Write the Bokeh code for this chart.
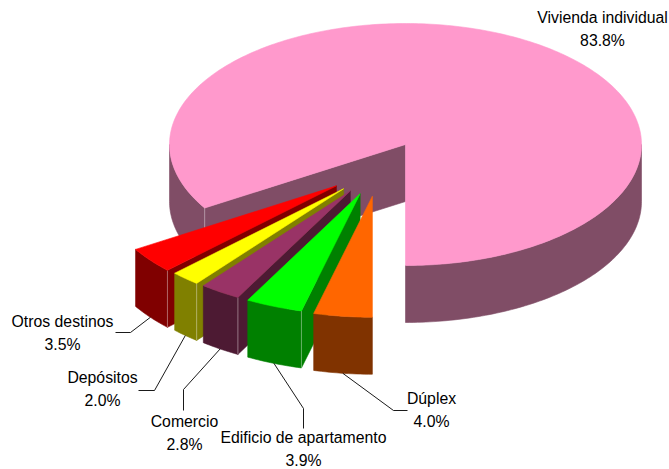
import numpy as np
from bokeh.plotting import figure
from bokeh.models import ColumnDataSource
from bokeh.embed import file_html
from bokeh.resources import INLINE
from bokeh.core.properties import value

# ---------------- data ----------------
categories = ["Vivienda individual", "Otros destinos", "Depósitos", "Comercio",
              "Edificio de apartamento", "Dúplex"]
shares = [83.8, 3.5, 2.0, 2.8, 3.9, 4.0]
exploded = [False, True, True, True, True, True]

# ---------------- styles ----------------
top_colors = ["#FF99CC", "#FF0000", "#FFFF00", "#993366", "#00FF00", "#FF6600"]
side_colors = ["#804D66", "#800000", "#808000", "#4D1A33", "#008000", "#803300"]

# ---------------- layout ----------------
W, H = 669, 469


def X(sx):
    return sx


def Y(sy):
    return H - sy


CX, CY = X(405), Y(144)
RX, RY, DEPTH = 236.0, 121.0, 57.0
START = 270.0
EXPLODE = 0.45
FONT = "Liberation Sans"
FSIZE = "15.8px"
LINE_GAP = 23

# label layout: (first-line centre, leader start, leader elbow) in page pixels
label_layout = {
    "Vivienda individual": ((602, 17), None, None),
    "Otros destinos": ((62, 321), (115, 332), (130, 332)),
    "Depósitos": ((102, 377), (138, 390), (154, 390)),
    "Comercio": ((184, 421), (183, 410), (183, 389)),
    "Edificio de apartamento": ((303, 437), (303, 428), (303, 408)),
    "Dúplex": ((431, 398), (407, 410), (393, 410)),
}


def lighten(hexc, f=0.4):
    r, g, b = (int(hexc[k:k + 2], 16) for k in (1, 3, 5))
    r, g, b = (int(c + (255 - c) * f) for c in (r, g, b))
    return f"#{r:02X}{g:02X}{b:02X}"


# ---------------- geometry ----------------
total = float(sum(shares))
spans = []
a = START
for v in shares:
    b = a + v / total * 360.0
    spans.append((a, b))
    a = b

ex_spans = [s for s, e in zip(spans, exploded) if e]
group_mid = (min(s[0] for s in ex_spans) + max(s[1] for s in ex_spans)) / 2.0


def offset(i):
    if not exploded[i]:
        return 0.0, 0.0
    mid = (spans[i][0] + spans[i][1]) / 2.0
    phi = np.radians(0.5 * mid + 0.5 * group_mid)
    return EXPLODE * RX * np.cos(phi), EXPLODE * RY * np.sin(phi)


def arc(t0, t1, ox, oy, dz=0.0, n=None):
    if n is None:
        n = max(2, int(abs(t1 - t0) / 1.0) + 2)
    t = np.radians(np.linspace(t0, t1, n))
    return list(CX + ox + RX * np.cos(t)), list(CY + oy + RY * np.sin(t) - dz)


def front_intervals(t0, t1):
    out = []
    k0 = int(np.floor(t0 / 360.0)) - 1
    for k in range(k0, k0 + 4):
        lo, hi = 180 + 360 * k, 360 + 360 * k
        s, e = max(t0, lo), min(t1, hi)
        if e - s > 1e-6:
            out.append((s, e))
    return out


xs, ys, fills, lws = [], [], [], []


def add(px, py, c, lw=0.6):
    xs.append(px)
    ys.append(py)
    fills.append(c)
    lws.append(lw)


leader_xs, leader_ys = [], []

for i, (t0, t1) in enumerate(spans):
    ox, oy = offset(i)
    tipx, tipy = CX + ox, CY + oy
    # outer curved face (front part only)
    for s, e in front_intervals(t0, t1):
        tx, ty = arc(s, e, ox, oy)
        bx, by = arc(s, e, ox, oy, DEPTH)
        add(tx + bx[::-1], ty + by[::-1], side_colors[i])
    # radial face at end angle (visible if it faces the viewer)
    te = np.radians(t1)
    if np.cos(te) < 0:
        ex, ey = tipx + RX * np.cos(te), tipy + RY * np.sin(te)
        add([tipx, ex, ex, tipx], [tipy, ey, ey - DEPTH, tipy - DEPTH], side_colors[i])
        # faint highlight on the front vertical edge
        add([ex - 0.5, ex + 0.5, ex + 0.5, ex - 0.5], [ey, ey, ey - DEPTH, ey - DEPTH],
            lighten(side_colors[i]), 0.0)
    ts = np.radians(t0)
    if np.cos(ts) > 1e-9:
        sx_, sy_ = tipx + RX * np.cos(ts), tipy + RY * np.sin(ts)
        add([tipx, sx_, sx_, tipx], [tipy, sy_, sy_ - DEPTH, tipy - DEPTH], side_colors[i])
    # top face
    ax_, ay_ = arc(t0, t1, ox, oy)
    add([tipx] + ax_, [tipy] + ay_, top_colors[i])
    # leader line
    lay = label_layout[categories[i]]
    if lay[1] is not None:
        tm = np.radians((t0 + t1) / 2.0)
        endx = tipx + RX * np.cos(tm)
        endy = tipy + RY * np.sin(tm) - DEPTH
        leader_xs.append([X(lay[1][0]), X(lay[2][0]), endx])
        leader_ys.append([Y(lay[1][1]), Y(lay[2][1]), endy])

# ---------------- figure ----------------
p = figure(width=W, height=H, x_range=(0, W), y_range=(0, H),
           toolbar_location=None, output_backend="svg",
           x_axis_type=None, y_axis_type=None, min_border=0)
p.grid.visible = False
p.outline_line_color = None
p.background_fill_color = "white"

src = ColumnDataSource(dict(xs=xs, ys=ys, fill=fills, lw=lws))
p.patches("xs", "ys", source=src, fill_color="fill", line_color="fill", line_width="lw")

p.multi_line(leader_xs, leader_ys, line_color="#000000", line_width=0.9)

lx, ly, lt = [], [], []
for i, cat in enumerate(categories):
    (cx_, cy_), _, _ = label_layout[cat]
    lx += [X(cx_), X(cx_)]
    ly += [Y(cy_), Y(cy_ + LINE_GAP)]
    lt += [cat, f"{shares[i]:.1f}%"]

p.text(lx, ly, text=lt, text_font=value(FONT), text_font_size=FSIZE,
       text_align="center", text_baseline="middle", text_color="#000000")

open("out.html", "w").write(file_html(p, INLINE))
